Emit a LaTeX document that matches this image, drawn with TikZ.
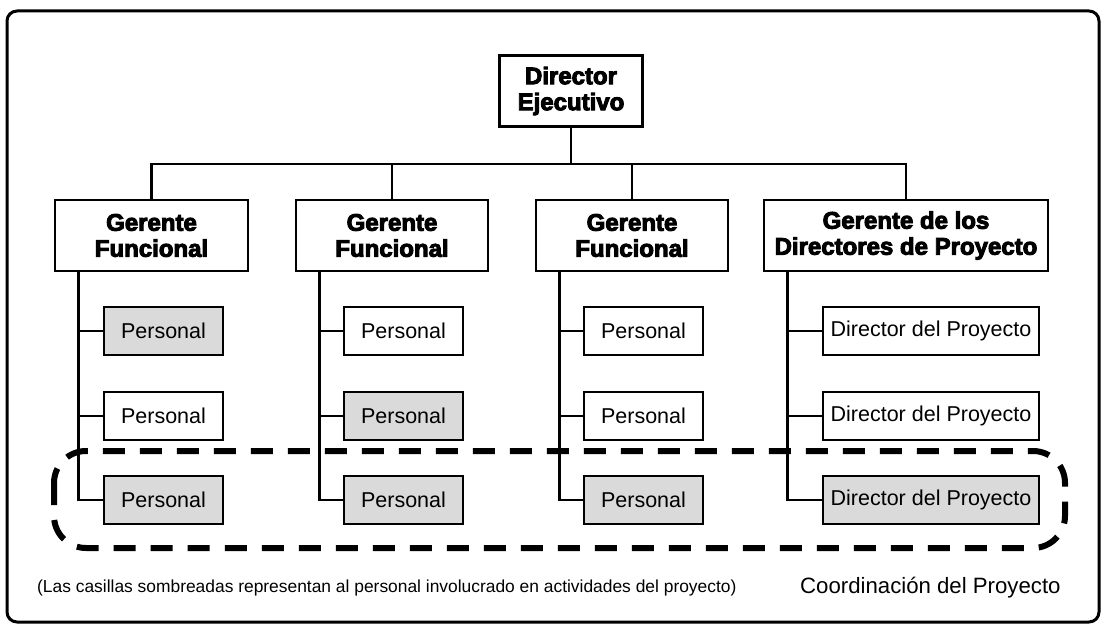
\documentclass[tikz,border=0pt]{standalone}
\usepackage{fontspec}
\setmainfont{Liberation Sans}
\newfontfamily\heavyfont[FakeBold=4]{Liberation Sans Bold}
\usetikzlibrary{calc}
\definecolor{shade}{RGB}{218,218,218}
\begin{document}
\begin{tikzpicture}[x=1pt,y=-1pt,
  headbox/.style={draw, line width=2.7pt, fill=white, align=center, inner sep=0pt,
    font=\heavyfont\fontsize{24}{26}\selectfont, minimum height=71pt},
  staffbox/.style={draw, line width=2.5pt, fill=white, inner sep=0pt,
    font=\fontsize{21.5}{26}\selectfont, minimum height=48pt, minimum width=119pt},
  shaded/.style={fill=shade},
  link/.style={line width=2.5pt},
  groupline/.style={line width=6pt, dash pattern=on 22pt off 15pt, rounded corners=32pt},
]
\useasboundingbox (0,0) rectangle (1106,628);
\draw[line width=3pt, rounded corners=10pt] (7,11) rectangle (1099,622);

% top of the hierarchy
\node[headbox, minimum width=143pt] (dir) at (571,91) {Director\\Ejecutivo};

% managers
\node[headbox, minimum width=193pt] (g1) at (151.5,235.5) {Gerente\\Funcional};
\node[headbox, minimum width=192pt] (g2) at (392,235.5) {Gerente\\Funcional};
\node[headbox, minimum width=192pt] (g3) at (632,235.5) {Gerente\\Funcional};
\node[headbox, minimum width=284pt] (g4) at (906,235.5) {Gerente de los\\Directores de Proyecto};

% staff, column 1
\node[staffbox, shaded] (p11) at (163.5,331) {Personal};
\node[staffbox]         (p12) at (163.5,416) {Personal};
\node[staffbox, shaded] (p13) at (163.5,500) {Personal};
% staff, column 2
\node[staffbox]         (p21) at (403.5,331) {Personal};
\node[staffbox, shaded] (p22) at (403.5,416) {Personal};
\node[staffbox, shaded] (p23) at (403.5,500) {Personal};
% staff, column 3
\node[staffbox]         (p31) at (643.5,331) {Personal};
\node[staffbox]         (p32) at (643.5,416) {Personal};
\node[staffbox, shaded] (p33) at (643.5,500) {Personal};
% project directors
\node[staffbox, minimum width=216pt]         (p41) at (931,331) {Director del Proyecto};
\node[staffbox, minimum width=216pt]         (p42) at (931,416) {Director del Proyecto};
\node[staffbox, minimum width=216pt, shaded] (p43) at (931,500) {Director del Proyecto};

% reporting lines
\draw[link] (dir.south) -- ++(0,36) coordinate (hub);
\draw[link] (g1.north) |- (hub) -| (g4.north);
\draw[link] (g2.north) -- (g2.north |- hub);
\draw[link] (g3.north) -- (g3.north |- hub);

\foreach \c in {1,2,3,4}{
  \coordinate (b\c) at ($(g\c.south west)+(25,0)$);
  \draw[link] (b\c) |- (p\c3.west);
  \draw[link] (p\c1.west) -- (p\c1.west -| b\c);
  \draw[link] (p\c2.west) -- (p\c2.west -| b\c);
}

% project coordination group
\draw[groupline] (54,451) rectangle (1065,548);

\node[anchor=west, inner sep=0pt, font=\fontsize{17.4}{20}\selectfont] (note) at (37,588)
  {(Las casillas sombreadas representan al personal involucrado en actividades del proyecto)};
\node[anchor=west, inner sep=0pt, font=\fontsize{22.2}{26}\selectfont] (coord) at (800,588)
  {Coordinación del Proyecto};
\end{tikzpicture}
\end{document}
